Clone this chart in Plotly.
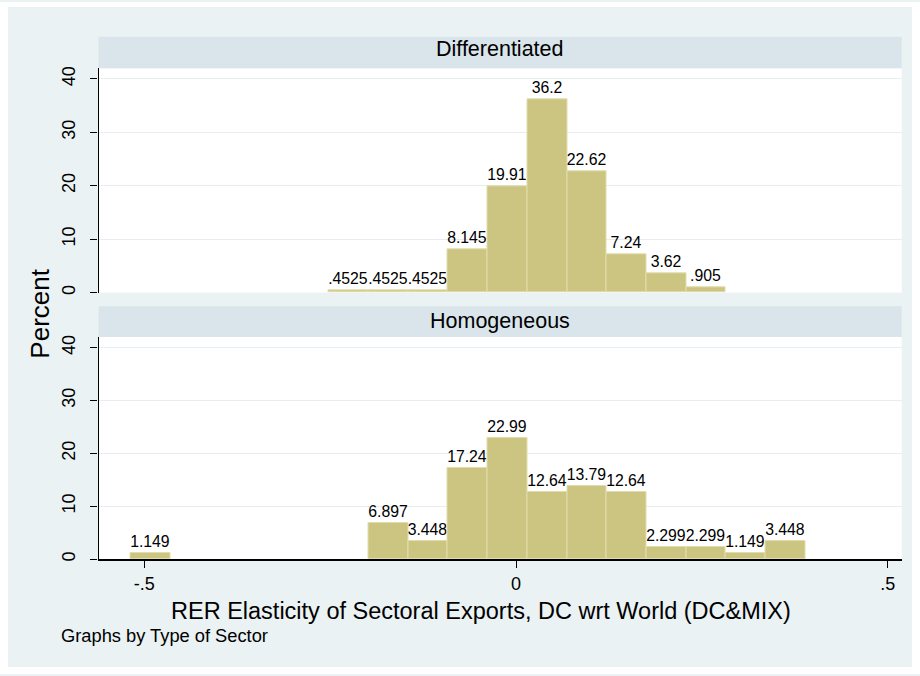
import plotly.graph_objects as go

# Histogram of RER elasticities by type of sector (percent of sectors per bin)
bin_start = -0.5187   # lower edge of the first bin
bin_width = 0.0534

diff_bins = [5, 6, 7, 8, 9, 10, 11, 12, 13, 14]
diff_pct = [0.4525, 0.4525, 0.4525, 8.145, 19.91, 36.2, 22.62, 7.24, 3.62, 0.905]

homo_bins = [0, 6, 7, 8, 9, 10, 11, 12, 13, 14, 15, 16]
homo_pct = [1.149, 6.897, 3.448, 17.24, 22.99, 12.64, 13.79, 12.64, 2.299, 2.299, 1.149, 3.448]

panel_titles = ["Differentiated", "Homogeneous"]
x_tick_vals = [-0.5, 0, 0.5]
x_tick_text = ["-.5", "0", ".5"]
y_tick_vals = [0, 10, 20, 30, 40]
y_tick_text = ["0", "10", "20", "30", "40"]

FONT = "Liberation Sans, Arial, Helvetica, sans-serif"
OUTER = "#eaf2f3"
HEADER = "#d9e5eb"
BAR = "#ccc582"
BAR_LINE = "#e2dcab"
GRID = "#e6eef0"

W, H = 920, 676


def stata_fmt(v):
    s = f"{v:.4g}"
    return s[1:] if s.startswith("0.") else s


def centers(bins):
    return [bin_start + (b + 0.5) * bin_width for b in bins]


def px_x(p):
    return p / W


def px_y(p):
    return 1 - p / H


fig = go.Figure()

for bins, pct, xa, ya in [(diff_bins, diff_pct, "x", "y"), (homo_bins, homo_pct, "x2", "y2")]:
    fig.add_trace(go.Bar(
        x=centers(bins), y=pct, width=bin_width,
        xaxis=xa, yaxis=ya,
        marker=dict(color=BAR, line=dict(color=BAR_LINE, width=1)),
        text=[stata_fmt(v) for v in pct], textposition="outside",
        textangle=0, constraintext="none", cliponaxis=False,
        textfont=dict(family=FONT, size=15.8, color="black"),
        showlegend=False, hoverinfo="x+y",
    ))

# pixel geometry of the two panels
plot_left, plot_right = 98.5, 901.7
top_header = (35.0, 66.7)
top_plot = (66.7, 292.3)
bot_header = (306.0, 337.0)
bot_plot = (337.0, 560.5)

x_range = [(plot_left - 516) / 743.4, (plot_right - 516) / 743.4]

yaxis_common = dict(
    range=[0, 42], tickvals=y_tick_vals, ticktext=y_tick_text,
    ticks="outside", ticklen=7, tickwidth=1.2, tickcolor="black",
    showline=True, linecolor="black", linewidth=1.2,
    showgrid=True, gridcolor=GRID, gridwidth=1.3, zeroline=False,
    tickangle=-90, tickfont=dict(family=FONT, size=18, color="black"),
    ticklabelstandoff=8, fixedrange=True,
)

fig.update_layout(
    width=W, height=H, autosize=False,
    margin=dict(l=0, r=0, t=0, b=0),
    paper_bgcolor=OUTER, plot_bgcolor="white",
    bargap=0,
    xaxis=dict(domain=[px_x(plot_left), px_x(plot_right)], range=x_range,
               anchor="y", showline=False, showgrid=False, zeroline=False,
               showticklabels=False, ticks="", fixedrange=True),
    xaxis2=dict(domain=[px_x(plot_left), px_x(plot_right)], range=x_range,
                anchor="y2", showline=True, linecolor="black", linewidth=1.5,
                showgrid=False, zeroline=False,
                tickvals=x_tick_vals, ticktext=x_tick_text,
                ticks="outside", ticklen=7, tickwidth=1.2, tickcolor="black",
                tickfont=dict(family=FONT, size=18, color="black"),
                fixedrange=True),
    yaxis=dict(domain=[px_y(top_plot[1]), px_y(top_plot[0])], anchor="x", **yaxis_common),
    yaxis2=dict(domain=[px_y(bot_plot[1]), px_y(bot_plot[0])], anchor="x2", **yaxis_common),
)

shapes = []
# white frame around the graph region
for x0, y0, x1, y1 in [(0, 0, W, 5), (0, 669, W, H), (0, 0, 8, H), (912, 0, W, H)]:
    shapes.append(dict(type="rect", xref="paper", yref="paper",
                       x0=px_x(x0), x1=px_x(x1), y0=px_y(y1), y1=px_y(y0),
                       fillcolor="white", line=dict(width=0), layer="below"))
# panel headers
for y0, y1 in [top_header, bot_header]:
    shapes.append(dict(type="rect", xref="paper", yref="paper",
                       x0=px_x(plot_left), x1=px_x(plot_right), y0=px_y(y1), y1=px_y(y0),
                       fillcolor=HEADER, line=dict(width=0), layer="below"))
fig.update_layout(shapes=shapes)

annotations = []
for title, ty in zip(panel_titles, [47.5, 320.5]):
    annotations.append(dict(text=title, xref="paper", yref="paper",
                            x=px_x((plot_left + plot_right) / 2), y=px_y(ty),
                            showarrow=False, xanchor="center", yanchor="middle",
                            font=dict(family=FONT, size=21.5, color="black")))
annotations.append(dict(text="Percent", xref="paper", yref="paper",
                        x=px_x(40), y=px_y(313.5), textangle=-90,
                        showarrow=False, xanchor="center", yanchor="middle",
                        font=dict(family=FONT, size=26, color="black")))
annotations.append(dict(text="RER Elasticity of Sectoral Exports, DC wrt World (DC&MIX)",
                        xref="paper", yref="paper", x=px_x(481), y=px_y(613),
                        showarrow=False, xanchor="center", yanchor="middle",
                        font=dict(family=FONT, size=23.5, color="black")))
annotations.append(dict(text="Graphs by Type of Sector", xref="paper", yref="paper",
                        x=px_x(59), y=px_y(637), showarrow=False,
                        xanchor="left", yanchor="middle",
                        font=dict(family=FONT, size=18.3, color="black")))
fig.update_layout(annotations=annotations)

fig.write_html("out.html")
